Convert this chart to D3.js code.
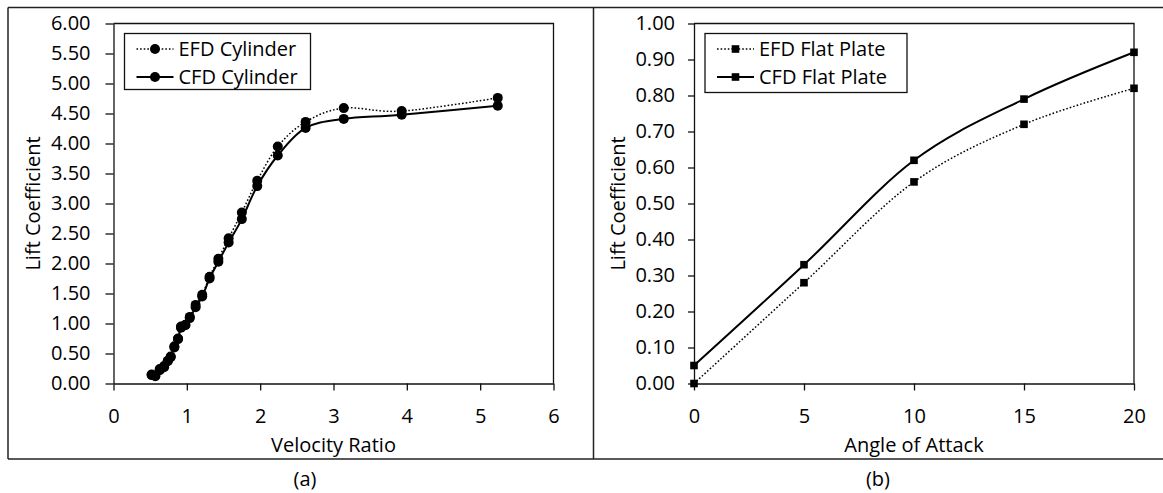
<!DOCTYPE html>
<html>
<head>
<meta charset="utf-8">
<script src="https://cdn.jsdelivr.net/npm/d3@7"></script>
<style>
  body { margin: 0; background: #fff; }
  text { font-family: "Open Sans", sans-serif; fill: #000; font-weight: 500; }
</style>
</head>
<body>
<div id="chart"></div>
<script>
// panel (a): cylinder
const velocityRatio = [0.52, 0.57, 0.63, 0.69, 0.74, 0.78, 0.83, 0.88, 0.92, 0.98, 1.04, 1.12,
  1.21, 1.31, 1.43, 1.57, 1.75, 1.96, 2.24, 2.62, 3.14, 3.93, 5.24];
const efdCylinder = [0.15, 0.12, 0.22, 0.29, 0.37, 0.44, 0.60, 0.75, 0.95, 0.98, 1.11, 1.31,
  1.48, 1.78, 2.08, 2.42, 2.85, 3.38, 3.95, 4.36, 4.59, 4.54, 4.76];
const cfdCylinder = [0.14, 0.13, 0.24, 0.27, 0.38, 0.45, 0.62, 0.74, 0.93, 0.97, 1.09, 1.27,
  1.45, 1.75, 2.03, 2.35, 2.74, 3.29, 3.80, 4.26, 4.41, 4.48, 4.63];
const cylinderXTicks = [0, 1, 2, 3, 4, 5, 6];
const cylinderYTicks = [0, 0.5, 1, 1.5, 2, 2.5, 3, 3.5, 4, 4.5, 5, 5.5, 6];

// panel (b): flat plate
const angleOfAttack = [0, 5, 10, 15, 20];
const efdFlatPlate = [0.00, 0.28, 0.56, 0.72, 0.82];
const cfdFlatPlate = [0.05, 0.33, 0.62, 0.79, 0.92];
const plateXTicks = [0, 5, 10, 15, 20];
const plateYTicks = [0, 0.1, 0.2, 0.3, 0.4, 0.5, 0.6, 0.7, 0.8, 0.9, 1.0];

const W = 1163, H = 493;
const FONT = 20;

const svg = d3.select("#chart").append("svg")
  .attr("width", W).attr("height", H);
svg.append("rect").attr("width", W).attr("height", H).attr("fill", "#fff");

// frame lines round the two panels
const frame = svg.append("g").attr("stroke", "#222").attr("stroke-width", 1.5);
frame.append("line").attr("x1", 8).attr("x2", W).attr("y1", 7.5).attr("y2", 7.5);
frame.append("line").attr("x1", 8).attr("x2", W).attr("y1", 459).attr("y2", 459);
frame.append("line").attr("x1", 8).attr("x2", 8).attr("y1", 7.5).attr("y2", 459);
frame.append("line").attr("x1", 593.5).attr("x2", 593.5).attr("y1", 7.5).attr("y2", 459);

function drawPanel(p) {
  const x = d3.scaleLinear().domain(p.xDomain).range([p.left, p.right]);
  const y = d3.scaleLinear().domain(p.yDomain).range([p.bottom, p.top]);
  const g = svg.append("g");

  // plot area border (top + right)
  g.append("path")
    .attr("d", `M${p.left},${p.top}H${p.right}V${p.bottom}`)
    .attr("fill", "none").attr("stroke", "#111").attr("stroke-width", 1.3);

  const yAxis = g.append("g")
    .attr("transform", `translate(${p.left},0)`)
    .call(d3.axisLeft(y).tickValues(p.yTicks).tickFormat(d3.format(".2f"))
      .tickSize(p.yTickSize).tickSizeOuter(0).tickPadding(p.yPad));
  const xAxis = g.append("g")
    .attr("transform", `translate(0,${p.bottom})`)
    .call(d3.axisBottom(x).tickValues(p.xTicks).tickFormat(d3.format("d"))
      .tickSize(7).tickSizeOuter(0).tickPadding(18));
  [xAxis, yAxis].forEach(a => {
    a.selectAll("path, line").attr("stroke", "#111").attr("stroke-width", 1.3);
    a.selectAll("text").style("font-size", FONT + "px").style("font-family", "Open Sans").attr("fill", "#000");
  });

  g.append("text")
    .attr("transform", `translate(${p.yTitleX},${(p.top + p.bottom) / 2}) rotate(-90)`)
    .attr("text-anchor", "middle").attr("dy", "0.35em")
    .style("font-size", FONT + "px").text("Lift Coefficient");
  g.append("text")
    .attr("x", (p.left + p.right) / 2).attr("y", 445).attr("dy", "0.35em")
    .attr("text-anchor", "middle").style("font-size", FONT + "px").text(p.xTitle);
  g.append("text")
    .attr("x", p.captionX).attr("y", 479).attr("dy", "0.35em")
    .attr("text-anchor", "middle").style("font-size", FONT + "px").text(p.caption);

  const curve = d3.curveCardinal.tension(0);
  p.series.forEach(s => {
    const pts = p.xs.map((v, i) => [v, s.values[i]]);
    g.append("path")
      .datum(pts)
      .attr("fill", "none").attr("stroke", "#000")
      .attr("stroke-width", s.dotted ? 1.5 : 2)
      .attr("stroke-dasharray", s.dotted ? "1.6,2" : null)
      .attr("d", d3.line().x(d => x(d[0])).y(d => y(d[1])).curve(curve));
    drawMarkers(g, pts.map(d => [x(d[0]), y(d[1])]), p.marker);
  });

  // legend
  const lg = g.append("g");
  lg.append("rect")
    .attr("x", p.legend.x).attr("y", p.legend.y)
    .attr("width", p.legend.w).attr("height", p.legend.h)
    .attr("fill", "#fff").attr("stroke", "#111").attr("stroke-width", 1.3);
  p.series.forEach((s, i) => {
    const ly = p.legend.y + 15.5 + i * 28;
    const lx0 = p.legend.x + 12, lx1 = lx0 + 37;
    lg.append("line")
      .attr("x1", lx0).attr("x2", lx1).attr("y1", ly).attr("y2", ly)
      .attr("stroke", "#000").attr("stroke-width", s.dotted ? 1.5 : 2)
      .attr("stroke-dasharray", s.dotted ? "1.6,2" : null);
    drawMarkers(lg, [[(lx0 + lx1) / 2, ly]], p.marker);
    lg.append("text")
      .attr("x", lx1 + 5).attr("y", ly).attr("dy", "0.35em")
      .style("font-size", FONT + "px").text(s.name);
  });
}

function drawMarkers(g, pts, type) {
  if (type === "circle") {
    g.selectAll(null).data(pts).join("circle")
      .attr("cx", d => d[0]).attr("cy", d => d[1]).attr("r", 5).attr("fill", "#000");
  } else {
    g.selectAll(null).data(pts).join("rect")
      .attr("x", d => d[0] - 3.8).attr("y", d => d[1] - 3.8)
      .attr("width", 7.6).attr("height", 7.6).attr("fill", "#000");
  }
}

drawPanel({
  xDomain: [0, 6], yDomain: [0, 6],
  left: 113.5, right: 553.5, top: 23.5, bottom: 383.5,
  xTicks: cylinderXTicks, yTicks: cylinderYTicks,
  yTickSize: 8, yPad: 15, yTitleX: 33,
  xTitle: "Velocity Ratio", caption: "(a)", captionX: 305,
  xs: velocityRatio, marker: "circle",
  series: [
    { name: "EFD Cylinder", values: efdCylinder, dotted: true },
    { name: "CFD Cylinder", values: cfdCylinder, dotted: false }
  ],
  legend: { x: 124.5, y: 33.5, w: 186, h: 56 }
});

drawPanel({
  xDomain: [0, 20], yDomain: [0, 1],
  left: 694, right: 1134, top: 23.5, bottom: 383.5,
  xTicks: plateXTicks, yTicks: plateYTicks,
  yTickSize: 6, yPad: 13, yTitleX: 618,
  xTitle: "Angle of Attack", caption: "(b)", captionX: 878,
  xs: angleOfAttack, marker: "square",
  series: [
    { name: "EFD Flat Plate", values: efdFlatPlate, dotted: true },
    { name: "CFD Flat Plate", values: cfdFlatPlate, dotted: false }
  ],
  legend: { x: 705, y: 33.5, w: 202, h: 59 }
});
</script>
</body>
</html>
